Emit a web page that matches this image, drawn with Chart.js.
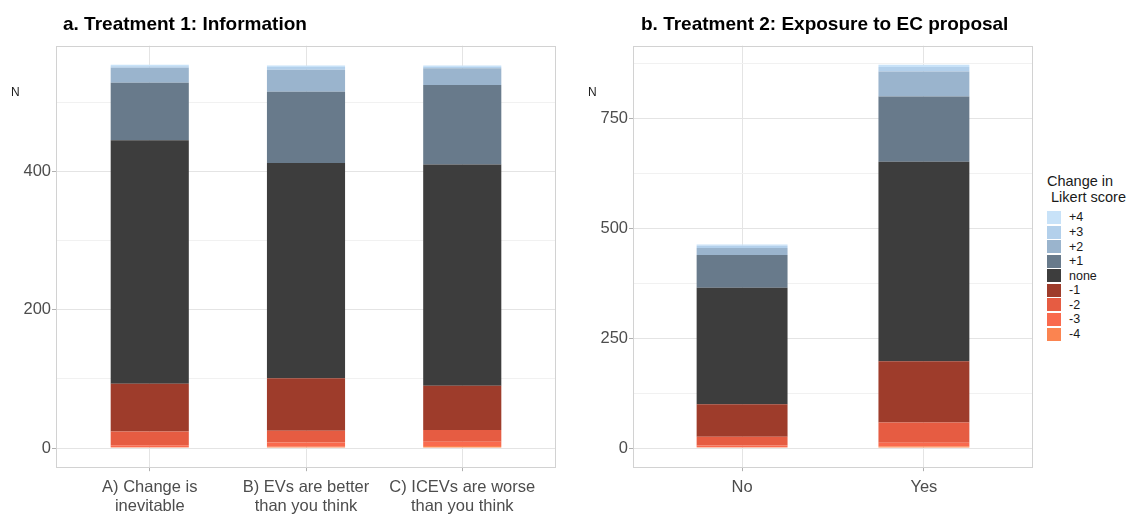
<!DOCTYPE html>
<html><head><meta charset="utf-8">
<script src="https://cdn.jsdelivr.net/npm/chart.js@4/dist/chart.umd.min.js"></script>
<style>
html,body{margin:0;padding:0;background:#fff}
body{width:1129px;height:517px;position:relative;overflow:hidden;font-family:"Liberation Sans",Arial,sans-serif}
canvas{position:absolute;top:0}
.t{position:absolute;white-space:pre;line-height:1;color:#000}
.title{font-weight:bold;font-size:19px}
.n{font-size:12px;color:#1a1a1a}
#legend{position:absolute;left:1047px;top:0;width:82px;height:517px}
.lt{position:absolute;left:0;top:173px;font-size:14.5px;line-height:16px;white-space:pre;color:#1a1a1a}
.li{position:absolute;left:0;height:14.5px;width:82px}
.lk{position:absolute;left:0;top:0.75px;width:13.5px;height:13px}
.ll{position:absolute;left:22px;top:0;font-size:12.5px;line-height:14.5px;color:#1a1a1a}
</style></head>
<body>
<canvas id="ca" width="580" height="517" style="left:0"></canvas>
<canvas id="cb" width="460" height="517" style="left:580px"></canvas>
<div class="t title" style="left:63px;top:13.5px">a. Treatment 1: Information</div>
<div class="t title" style="left:641px;top:13.5px">b. Treatment 2: Exposure to EC proposal</div>
<div class="t n" style="left:11px;top:86px">N</div>
<div class="t n" style="left:588px;top:86px">N</div>
<div id="legend"><div class="lt">Change in
 Likert score</div></div>
<script>
// ---- data ----
const levels = ['-4','-3','-2','-1','none','+1','+2','+3','+4'];            // bottom -> top
const levelColors = ['#fb8450','#f96a4e','#e65c42','#9e3c2b','#3d3d3d','#687a8b','#9ab4cd','#b3d0eb','#c8e2f8'];
const catsA = [['A) Change is','inevitable'],['B) EVs are better','than you think'],['C) ICEVs are worse','than you think']];
const catsB = ['No','Yes'];
// panel a counts by level, one value per category (A, B, C)
const aM4 = [1, 2, 3];
const aM3 = [3, 6, 6];
const aM2 = [20, 17, 17];
const aM1 = [69, 76, 64];
const aNone = [352, 311, 320];
const aP1 = [83, 103, 115];
const aP2 = [22, 32, 24];
const aP3 = [2, 4, 2];
const aP4 = [2, 2, 2];
// panel b counts by level (No, Yes)
const bM4 = [2, 4];
const bM3 = [4, 8];
const bM2 = [20, 46];
const bM1 = [74, 140];
const bNone = [265, 454];
const bP1 = [75, 149];
const bP2 = [16, 57];
const bP3 = [5, 10];
const bP4 = [3, 5];
const ticksA = [0, 200, 400];
const minorA = [100, 300, 500];
const ticksB = [0, 250, 500, 750];
const minorB = [125, 375, 625, 875];

const seriesA = [aM4,aM3,aM2,aM1,aNone,aP1,aP2,aP3,aP4];
const seriesB = [bM4,bM3,bM2,bM1,bNone,bP1,bP2,bP3,bP4];

const FONT = '"Liberation Sans", Arial, sans-serif';
const MAJOR = '#e4e4e4', MINOR = '#f1f1f1', BORDER = '#d2d2d2', TICKC = '#b0b0b0';

const boxPlugin = {
  id: 'panelBox',
  afterDatasetsDraw(chart) {
    const a = chart.chartArea, c = chart.ctx;
    c.save(); c.strokeStyle = BORDER; c.lineWidth = 1;
    c.strokeRect(Math.round(a.left)+0.5, Math.round(a.top)+0.5, Math.round(a.right-a.left)-1, Math.round(a.bottom-a.top)-1);
    c.restore();
  }
};

function makeChart(id, cats, series, majors, minors, yWidth, padRight) {
  const n = cats.length;
  const totals = cats.map((_, i) => series.reduce((s, arr) => s + arr[i], 0));
  const maxT = Math.max(...totals);
  const datasets = series.map((arr, k) => ({
    label: levels[k],
    data: arr.map((v, i) => ({x: i + 1, y: v})),
    backgroundColor: levelColors[k],
    borderWidth: 0,
    categoryPercentage: 1,
    barPercentage: 0.5
  }));
  const allY = majors.concat(minors).sort((p, q) => p - q);
  return new Chart(document.getElementById(id), {
    type: 'bar',
    data: {datasets},
    plugins: [boxPlugin],
    options: {
      responsive: false, animation: false,
      layout: {padding: {left: 0, top: 45.7, right: padRight, bottom: 0}},
      plugins: {legend: {display: false}, tooltip: {enabled: false}, title: {display: false}},
      scales: {
        x: {
          type: 'linear', stacked: true, offset: false,
          min: 0.4, max: n + 0.6,
          afterBuildTicks: s => { s.ticks = cats.map((_, i) => ({value: i + 1})); },
          afterFit: s => { s.height = 49.8; },
          border: {display: false},
          grid: {offset: false, color: MAJOR, lineWidth: 1, drawTicks: true, tickLength: 4, tickColor: TICKC},
          ticks: {
            autoSkip: false, maxRotation: 0, minRotation: 0, padding: 6,
            color: '#4d4d4d', font: {family: FONT, size: 16.5}, lineHeight: 1.2,
            callback: v => cats[Math.round(v) - 1]
          }
        },
        y: {
          type: 'linear', stacked: true,
          min: -0.05 * maxT, max: 1.05 * maxT,
          afterBuildTicks: s => { s.ticks = allY.map(v => ({value: v})); },
          afterFit: s => { s.width = yWidth; },
          border: {display: false},
          grid: {
            lineWidth: 1, drawTicks: true, tickLength: 4,
            color: c => majors.includes(c.tick.value) ? MAJOR : MINOR,
            tickColor: c => majors.includes(c.tick.value) ? TICKC : 'rgba(0,0,0,0)'
          },
          ticks: {
            autoSkip: false, padding: 1,
            color: '#4d4d4d', font: {family: FONT, size: 16.5},
            callback: v => majors.includes(v) ? String(v) : ''
          }
        }
      }
    }
  });
}

makeChart('ca', catsA, seriesA, ticksA, minorA, 56, 24);
makeChart('cb', catsB, seriesB, ticksB, minorB, 53, 7);

// legend (top -> bottom = reverse of stacking order)
const lg = document.getElementById('legend');
for (let j = 0; j < levels.length; j++) {
  const k = levels.length - 1 - j;
  const row = document.createElement('div');
  row.className = 'li';
  row.style.top = (217.7 - 7.25 + j * 14.54) + 'px';
  row.innerHTML = '<div class="lk" style="background:' + levelColors[k] + '"></div><div class="ll">' + levels[k] + '</div>';
  lg.appendChild(row);
}
</script>
</body></html>
